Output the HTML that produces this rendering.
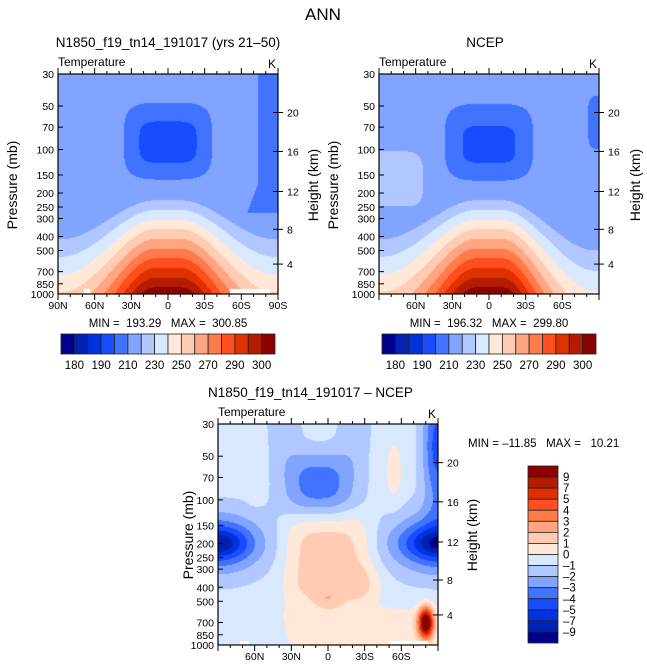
<!DOCTYPE html><html><head><meta charset="utf-8"><style>
body{margin:0;background:#fff;width:647px;height:669px;overflow:hidden;position:relative;font-family:"Liberation Sans",sans-serif}
canvas{position:absolute}
svg{position:absolute;left:0;top:0}
text{font-family:"Liberation Sans",sans-serif;fill:#000;white-space:pre}
</style></head><body>
<canvas id="c1" width="220" height="220" style="left:58px;top:74px"></canvas>
<canvas id="c2" width="220" height="220" style="left:379px;top:74px"></canvas>
<canvas id="c3" width="220" height="221" style="left:218px;top:424px"></canvas>
<svg id="s" width="647" height="669"></svg>
<script>
var C=['#00008c','#0022b4','#0033e0','#1a4cff','#4173ff','#80a4ff','#b0c8ff','#d8e8ff','#ffe8d8','#ffcbb3','#ffa582','#ff7c4a','#ff4f1e','#e03000','#b41c00','#8c0000'];
var RGB=C.map(function(h){return [parseInt(h.substr(1,2),16),parseInt(h.substr(3,2),16),parseInt(h.substr(5,2),16)]});
function draw(id,f){var cv=document.getElementById(id),ctx=cv.getContext('2d'),W=cv.width,H=cv.height,im=ctx.createImageData(W,H);
for(var j=0;j<H;j++)for(var i=0;i<W;i++){var x=(i+.5)/W,y=(j+.5)/H,k=f(x,y),p=(j*W+i)*4;
if(k<0){im.data[p]=255;im.data[p+1]=255;im.data[p+2]=255;}else{k=Math.max(0,Math.min(15,Math.floor(k)));im.data[p]=RGB[k][0];im.data[p+1]=RGB[k][1];im.data[p+2]=RGB[k][2];}im.data[p+3]=255;}
ctx.putImageData(im,0,0);}
function rb(x,y,cx,cy,ax,ay){return Math.pow(Math.pow(Math.abs(x-cx)/ax,4)+Math.pow(Math.abs(y-cy)/ay,4),.25);}
function ss(a,b,v){var t=Math.max(0,Math.min(1,(v-a)/(b-a)));return t*t*(3-2*t);}
function temp(x,y,n){var w=ss(0.06,0.48,Math.abs(x-0.5));var asym=n?(x>0.5?0.04*w:0):0;var h=0.53+0.14*w+asym,s=0.044+0.036*w+asym*0.3;
var L=5+(y-h)/s;if(L>=5)return L;
var k=5;
if(!n){if(rb(x,y,0.5,0.305,0.2,0.175)<1)k=4;if(rb(x,y,0.5,0.31,0.13,0.095)<1)k=3;
if(y<0.63&&x>0.91-0.05*Math.max(0,(y-0.5)/0.13))k=4;}
else{if(rb(x,y,0.5,0.31,0.2,0.175)<1)k=4;if(rb(x,y,0.5,0.32,0.12,0.085)<1)k=3;
if(rb(x,y,1,0.22,0.05,0.12)<1)k=4;if(rb(x,y,0.06,0.48,0.14,0.13)<1&&y<0.6)k=6;}
return k;}
draw('c1',function(x,y){if(y>0.975&&((x>0.12&&x<0.145)||(x>0.78&&x<0.965)))return -1;return temp(x,y,0)});
draw('c2',function(x,y){return temp(x,y,1)});
function g(x,y,a,cx,cy,sx,sy,p){p=p||2;return a*Math.exp(-Math.pow(Math.abs(x-cx)/sx,p)-Math.pow(Math.abs(y-cy)/sy,p));}
draw('c3',function(x,y){if(y>0.98&&((x>0.1&&x<0.14)||(x>0.78&&x<0.96)))return -1;
var v=7.5;v+=g(x,y,2.0,0.5,0.62,0.2,0.22,4);v+=g(x,y,1.2,0.65,0.93,0.35,0.1,4);v+=g(x,y,1.1,0.5,0.79,0.06,0.035);v+=g(x,y,0.8,0.68,0.72,0.08,0.1);
v+=g(x,y,9,0.945,0.9,0.035,0.07);v+=g(x,y,-3.0,0.46,0.27,0.17,0.15,2.5);v+=g(x,y,-1.2,0.3,0.0,0.08,0.18);v+=g(x,y,-1.2,0.62,0.0,0.08,0.18);
v+=g(x,y,-3.5,0,0.54,0.22,0.15);v+=g(x,y,-3,0,0.54,0.13,0.07);
v+=g(x,y,-3.5,1,0.54,0.24,0.15);v+=g(x,y,-3,1,0.54,0.14,0.07);v+=g(x,y,-4,1,0.1,0.07,0.3);
v+=g(x,y,1,0.8,0.22,0.04,0.15);v+=g(x,y,0.9,0.17,0.33,0.03,0.03);return v;});
var S=document.getElementById('s'),o='';
function T(x,y,t,sz,anc,rot){o+='<text x="'+x+'" y="'+y+'" font-size="'+sz+'" text-anchor="'+(anc||'start')+'"'+(rot?' transform="rotate(-90 '+x+' '+y+')"':'')+'>'+t+'</text>';}
function L(a,b,c,d){o+='<line x1="'+a+'" y1="'+b+'" x2="'+c+'" y2="'+d+'" stroke="#000" stroke-width="1"/>';}
var P=[30,50,70,100,150,200,250,300,400,500,700,850,1000],HK=[[20,.175],[16,.352],[12,.534],[8,.706],[4,.864]];
function frame(x0,y0,w,h,full){o+='<rect x="'+x0+'" y="'+y0+'" width="'+w+'" height="'+h+'" fill="none" stroke="#000" stroke-width="1.2"/>';
P.forEach(function(p){var y=y0+Math.log(p/30)/Math.log(1000/30)*h;L(x0,y,x0+5,y);T(x0-4,y+4,p,10.5,'end');});
HK.forEach(function(q){var y=y0+q[1]*h;L(x0+w,y,x0+w+5,y);L(x0+w-5,y,x0+w,y);T(x0+w+9,y+4,q[0],10.5);});
for(var d=0;d<=18;d++){var x=x0+d/18*w,l=(d%3==0)?6:3;L(x,y0,x,y0-l);L(x,y0+h,x,y0+h+l);}
var lb=['90N','60N','30N','0','30S','60S','90S'];for(var d=0;d<7;d++){if(!full&&(d==0||d==6))continue;T(x0+d/6*w,y0+h+15,lb[d],10.5,'middle');}
T(x0,y0-8,'Temperature',12);T(x0+w-2,y0-6,'K',12,'end');}
frame(58,74,220,220,1);frame(379,74,220,220,0);frame(218,424,220,221,0);
T(323,20,'ANN',17,'middle');
T(168,47,'N1850_f19_tn14_191017 (yrs 21&#8211;50)',13.5,'middle');T(485,47,'NCEP',13.5,'middle');
T(208,397,'N1850_f19_tn14_191017 &#8211; NCEP',13.5);
T(17,185,'Pressure (mb)',14,'middle',1);T(318,185,'Height (km)',14,'middle',1);
T(338,185,'Pressure (mb)',14,'middle',1);T(640,185,'Height (km)',14,'middle',1);
T(193,535,'Pressure (mb)',14,'middle',1);T(477,535,'Height (km)',14,'middle',1);
T(168,327,'MIN =  193.29   MAX =  300.85',11.5,'middle');T(489,327,'MIN =  196.32   MAX =  299.80',11.5,'middle');
T(468,447,'MIN = &#8211;11.85   MAX =   10.21',11.5);
function hbar(x0,y0,w,h){for(var i=0;i<16;i++){o+='<rect x="'+(x0+i*w/16)+'" y="'+y0+'" width="'+(w/16)+'" height="'+h+'" fill="'+C[i]+'" stroke="#222" stroke-width="0.8"/>';}
var lb=['180','190','210','230','250','270','290','300'];for(var i=0;i<8;i++)T(x0+(2*i+1)*w/16,y0+h+15,lb[i],11.5,'middle');}
hbar(61,334,214,20);hbar(382,334,214,20);
var bx=528,by=466,bh=177,lbs=['9','7','5','4','3','2','1','0','&#8211;1','&#8211;2','&#8211;3','&#8211;4','&#8211;5','&#8211;7','&#8211;9'];
for(var i=0;i<16;i++)o+='<rect x="'+bx+'" y="'+(by+i*bh/16)+'" width="30" height="'+(bh/16)+'" fill="'+C[15-i]+'" stroke="#222" stroke-width="0.8"/>';
for(var i=0;i<15;i++)T(563,by+(i+1)*bh/16+4,lbs[i],11.5);
S.innerHTML=o;
</script></body></html>
